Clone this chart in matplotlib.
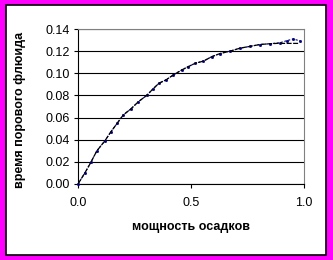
import matplotlib.pyplot as plt
from matplotlib import ticker
from matplotlib.patches import Rectangle

# данные
x_data = [0.0, 0.031, 0.057, 0.083, 0.119, 0.145, 0.174, 0.20, 0.235, 0.267, 0.304,
          0.33, 0.358, 0.389, 0.422, 0.459, 0.488, 0.518, 0.555, 0.592, 0.628,
          0.673, 0.717, 0.761, 0.805, 0.85, 0.894, 0.923, 0.953, 0.982]
y_data = [0.0, 0.0102, 0.0196, 0.0298, 0.039, 0.047, 0.055, 0.0623, 0.068, 0.0743, 0.080,
          0.0855, 0.091, 0.094, 0.0985, 0.103, 0.106, 0.109, 0.111, 0.115, 0.1178,
          0.120, 0.1227, 0.1243, 0.126, 0.1267, 0.1276, 0.1294, 0.131, 0.1292]
x_model = [0.0, 0.031, 0.057, 0.083, 0.119, 0.145, 0.174, 0.20, 0.235, 0.267, 0.304,
           0.33, 0.358, 0.389, 0.422, 0.459, 0.488, 0.518, 0.555, 0.592, 0.628,
           0.673, 0.717, 0.761, 0.805, 0.85, 0.88, 0.94, 0.98]
y_model = [0.0, 0.0102, 0.0196, 0.0298, 0.039, 0.047, 0.055, 0.0623, 0.068, 0.0743, 0.080,
           0.0855, 0.091, 0.094, 0.0985, 0.103, 0.106, 0.109, 0.111, 0.115, 0.1178,
           0.120, 0.1227, 0.1243, 0.126, 0.1267, 0.127, 0.127, 0.127]
y_ticks = [0.0, 0.02, 0.04, 0.06, 0.08, 0.10, 0.12, 0.14]
x_ticks = [0.0, 0.5, 1.0]

plt.rcParams['font.family'] = ['Liberation Sans', 'DejaVu Sans']

W, H = 333, 260
fig = plt.figure(figsize=(W / 100, H / 100), dpi=100)
fig.patch.set_facecolor('#ff00ff')

# белая область диаграммы с рамкой
fig.patches.append(Rectangle((6 / W, 1 - 255 / H), 320 / W, 250 / H,
                             transform=fig.transFigure, facecolor='white',
                             edgecolor='black', linewidth=1.2, zorder=0))

ax = fig.add_axes([78 / W, 1 - 184 / H, 226 / W, 155 / H])
ax.set_zorder(2)
ax.set_facecolor('white')

ax.plot(x_data, y_data, color='#000080', linestyle=(0, (2, 1.5)), linewidth=0.8,
        marker='s', markersize=1.0, zorder=3, clip_on=False)
ax.plot(x_model, y_model, color='black', linestyle=(0, (4, 1.2)), linewidth=0.9,
        zorder=4)

ax.set_xlim(0, 1.0)
ax.set_ylim(0, 0.14)
ax.set_xticks(x_ticks)
ax.set_yticks(y_ticks)
ax.xaxis.set_major_formatter(ticker.FormatStrFormatter('%.1f'))
ax.yaxis.set_major_formatter(ticker.FormatStrFormatter('%.2f'))
ax.grid(axis='y', color='black', linewidth=0.8)
ax.set_axisbelow(True)

for s in ['top', 'right']:
    ax.spines[s].set_color('#808080')
    ax.spines[s].set_linewidth(0.8)
for s in ['left', 'bottom']:
    ax.spines[s].set_color('black')
    ax.spines[s].set_linewidth(0.8)

ax.tick_params(axis='x', direction='out', length=3, width=0.8, pad=6, labelsize=9)
ax.tick_params(axis='y', direction='out', length=3, width=0.8, pad=3, labelsize=9)

fig.text(191 / W, 1 - 227 / H, 'мощность осадков', fontsize=9, fontweight='bold',
         ha='center', va='center')
fig.text(20 / W, 1 - 110 / H, 'время порового флюида', fontsize=9, fontweight='bold',
         rotation=90, ha='center', va='center')

plt.savefig('out.png', dpi=100, facecolor=fig.get_facecolor())
